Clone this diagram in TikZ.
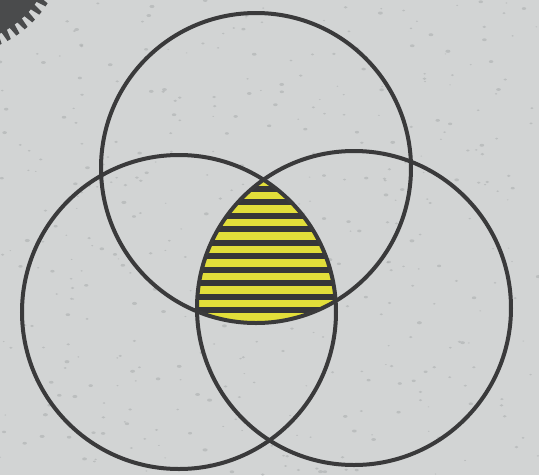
\documentclass[tikz,border=0pt]{standalone}
\usetikzlibrary{calc}
\definecolor{bgc}{HTML}{D2D4D4}
\definecolor{speck}{HTML}{A9ACAD}
\definecolor{ink}{HTML}{3A3A3B}
\definecolor{hl}{HTML}{E2DE3A}
\definecolor{gearc}{HTML}{4A4B4C}
\tikzset{
  ring/.style={draw=ink, line width=4pt},
  stripe/.style={fill=ink!95!black},
}
\begin{document}
\begin{tikzpicture}[x=1pt,y=-1pt]
\useasboundingbox (0,0) rectangle (539,475);
\fill[bgc] (0,0) rectangle (539,475);
% speckle texture
\pgfmathsetseed{7}
\foreach \i in {1,...,420}{
  \pgfmathsetmacro{\px}{rnd*539}
  \pgfmathsetmacro{\py}{rnd*475}
  \pgfmathsetmacro{\pr}{0.5+rnd*1.1}
  \fill[speck, opacity=0.55] (\px,\py) ellipse ({\pr*1.6} and \pr);
}
% gear in the corner
\begin{scope}
  \clip (0,0) rectangle (539,475);
  \begin{scope}[shift={(-44,-54)}]
    \fill[gearc] (0,0) circle (98);
    \foreach \a in {0,5.5,...,360}{
      \fill[gearc] (\a-1.9:96) -- (\a-1.0:108) -- (\a+1.0:108) -- (\a+1.9:96) -- cycle;
    }
  \end{scope}
\end{scope}
% circle centres
\coordinate (T) at (256,168);
\coordinate (L) at (179,312);
\coordinate (R) at (354,308);
% striped intersection
\begin{scope}
  \clip (T) circle (155);
  \clip (L) circle (157);
  \clip (R) circle (157);
  \fill[hl] (150,150) rectangle (400,360);
  \foreach \k in {0,...,11}{
    \pgfmathsetmacro{\y}{185.5+13.5*\k}
    \fill[stripe] (150,\y) rectangle (400,\y+6);
  }
\end{scope}
% circles
\draw[ring] (T) circle (155);
\draw[ring] (L) circle (157);
\draw[ring] (R) circle (157);
\end{tikzpicture}
\end{document}
